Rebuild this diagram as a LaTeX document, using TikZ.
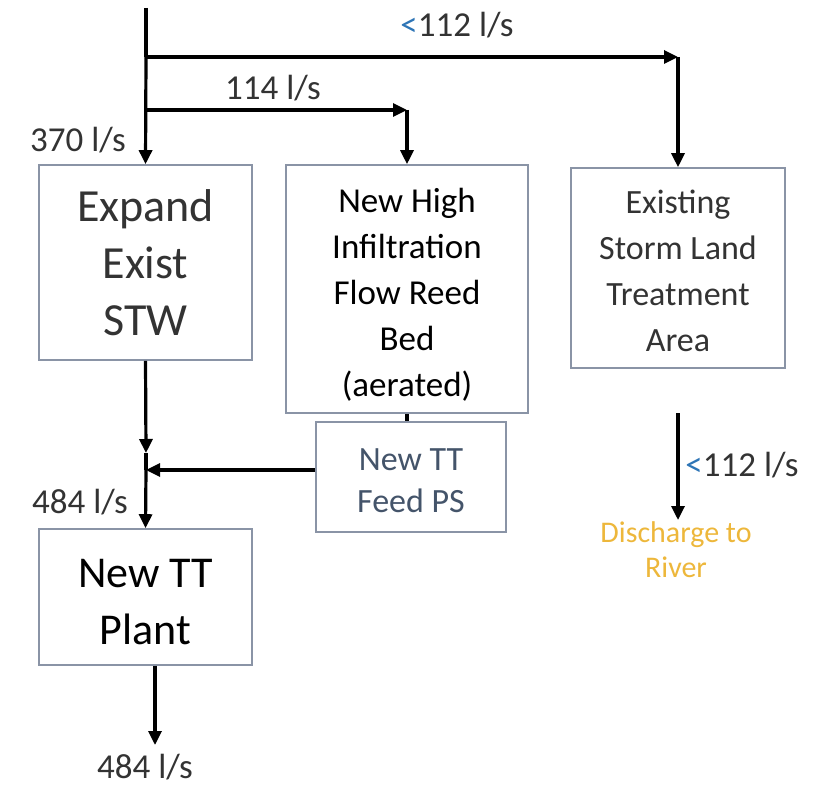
\documentclass[tikz,border=0pt]{standalone}
\usepackage{fontspec}
\setmainfont{Carlito}
\usetikzlibrary{arrows.meta}
\definecolor{boxline}{HTML}{8A94A6}
\definecolor{textgray}{HTML}{333333}
\definecolor{slate}{HTML}{44546A}
\definecolor{lessblue}{HTML}{2E75B6}
\definecolor{river}{HTML}{EDB73B}
\tikzset{>={Stealth[length=14pt,width=13pt,inset=0pt]}}
\tikzset{
  unit/.style={draw=boxline, line width=1.6pt, align=center, inner sep=0pt},
  pipe/.style={line width=3.2pt},
  flow/.style={pipe, ->},
  rate/.style={text=textgray, font=\fontsize{35}{42}\selectfont, inner sep=0pt}
}

\begin{document}
\begin{tikzpicture}[x=1pt,y=-1pt]
\useasboundingbox (0,0) rectangle (826,786);
% treatment units
\node [unit, minimum width=213pt, minimum height=195pt, text=textgray,
  font=\fontsize{46}{57}\selectfont] (stw) at (145.5,262.5) {Expand\\Exist\\STW};
\node [unit, minimum width=242pt, minimum height=248pt, text=black,
  font=\fontsize{35}{46}\selectfont] (reed) at (407,289) {\rule{0pt}{36pt}New High\\Infiltration\\Flow Reed\\Bed\\(aerated)};
\node [unit, minimum width=214pt, minimum height=200pt, text=textgray,
  font=\fontsize{34}{46}\selectfont] (storm) at (678,268) {\rule{0pt}{30pt}Existing\\Storm Land\\Treatment\\Area};
\node [unit, minimum width=190pt, minimum height=110pt, text=slate,
  font=\fontsize{34}{42}\selectfont] (feed) at (411,477) {\rule{0pt}{30pt}New TT\\Feed PS};
\node [unit, minimum width=213pt, minimum height=136pt, text=black,
  font=\fontsize{44}{57}\selectfont] (plant) at (145.5,597) {\rule{0pt}{38pt}New TT\\Plant};
% junctions and free ends
\coordinate (inlet) at (146,8);
\coordinate (split1) at (146,57);
\coordinate (corner1) at (678,57);
\coordinate (split2) at (146,110);
\coordinate (corner2) at (407,110);
\coordinate (stwout) at (146,453);
\coordinate (merge) at (146,470);
\coordinate (outlet) at (155,745);
\coordinate (stormend) at (678,413);
\coordinate (riverend) at (678,520);
% flows
\draw [pipe] (inlet) -- (split1);
\draw [flow] (split1) -- (stw.north);
\draw [flow] (split1) -- (corner1);
\draw [flow] (corner1) -- (storm.north);
\draw [flow] (split2) -- (corner2);
\draw [flow] (corner2) -- (reed.north);
\draw [flow] (stw.south) -- (stwout);
\draw [pipe] (stwout) -- (merge);
\draw [flow] (feed.west |- merge) -- (merge);
\draw [flow] (merge) -- (plant.north);
\draw [pipe] (reed.south) -- (feed.north -| reed.south);
\draw [flow] (plant.south -| outlet) -- (outlet);
\draw [flow] (stormend) -- (riverend);
% flow rates
\node [rate] (q1) at (457,25) {\textcolor{lessblue}{<}112 l/s};
\node [rate] (q2) at (273,88) {114 l/s};
\node [rate] (q3) at (78,140) {370 l/s};
\node [rate] (q4) at (80,502) {484 l/s};
\node [rate] (q5) at (145,767) {484 l/s};
\node [rate] (q6) at (742,465) {\textcolor{lessblue}{<}112 l/s};
\node [text=river, align=center, font=\fontsize{30}{35}\selectfont] (river) at (676,550) {Discharge to\\River};
\end{tikzpicture}
\end{document}
